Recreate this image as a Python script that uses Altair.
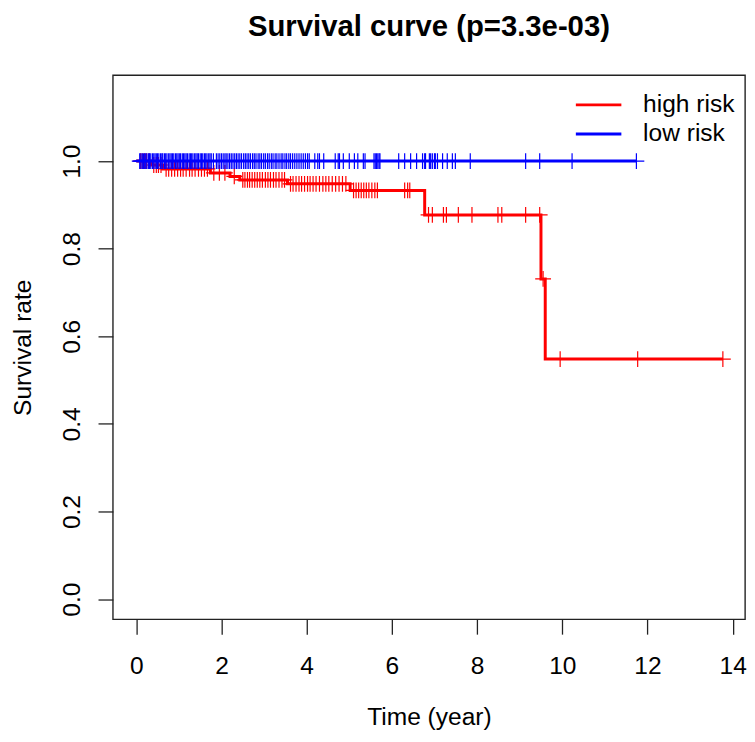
import altair as alt
import pandas as pd
from bisect import bisect_right

# ---- data ----
high_event_times = [0.35, 0.62, 1.74, 2.20, 2.43, 3.55, 5.02, 6.77, 9.50, 9.60]
high_surv = [0.991, 0.982, 0.973, 0.965, 0.957, 0.948, 0.933, 0.877, 0.731, 0.548]
high_end = 13.77
high_censor = [0.10, 0.14, 0.19, 0.24, 0.30, 0.41, 0.47, 0.52, 0.58, 0.70, 0.76, 0.83, 0.90, 0.97,
               1.04, 1.10, 1.17, 1.25, 1.31, 1.38, 1.46, 1.53, 1.60, 1.67, 1.82, 1.95, 2.08, 2.30,
               2.50, 2.55, 2.61, 2.66, 2.72, 2.78, 2.84, 2.90, 2.96, 3.03, 3.09, 3.15, 3.22, 3.28,
               3.35, 3.42, 3.48, 3.62, 3.68, 3.75, 3.82, 3.88, 3.95, 4.02, 4.08, 4.15, 4.22, 4.30,
               4.38, 4.45, 4.52, 4.60, 4.68, 4.76, 4.84, 4.92, 5.10, 5.16, 5.22, 5.28, 5.34, 5.40,
               5.46, 5.53, 5.60, 5.66, 6.30, 6.37, 6.42, 6.86, 6.95, 7.21, 7.28, 7.56, 7.88, 8.49,
               8.58, 9.14, 9.47, 9.55, 9.95, 11.77, 13.77]

low_event_times = []
low_surv = []
low_end = 11.74
low_censor = [0.08, 0.11, 0.14, 0.17, 0.20, 0.22, 0.25, 0.29, 0.31, 0.34, 0.38, 0.41, 0.44, 0.47,
              0.50, 0.53, 0.57, 0.60, 0.62, 0.66, 0.69, 0.72, 0.76, 0.79, 0.82, 0.85, 0.88, 0.92,
              0.95, 0.98, 1.01, 1.04, 1.08, 1.11, 1.14, 1.17, 1.20, 1.24, 1.27, 1.30, 1.33, 1.37,
              1.40, 1.43, 1.46, 1.50, 1.53, 1.56, 1.60, 1.63, 1.66, 1.70, 1.73, 1.76, 1.81, 1.88,
              1.92, 1.96, 2.00, 2.04, 2.08, 2.11, 2.15, 2.19, 2.23, 2.27, 2.31, 2.35, 2.39, 2.43,
              2.47, 2.52, 2.56, 2.60, 2.64, 2.68, 2.73, 2.77, 2.81, 2.86, 2.90, 2.94, 2.99, 3.03,
              3.08, 3.12, 3.17, 3.21, 3.26, 3.30, 3.35, 3.40, 3.44, 3.49, 3.53, 3.58, 3.62, 3.67,
              3.72, 3.77, 3.82, 3.87, 3.92, 3.97, 4.02, 4.06, 4.19, 4.26, 4.30, 4.40, 4.67, 4.74,
              4.77, 4.86, 5.00, 5.12, 5.20, 5.33, 5.37, 5.58, 5.61, 5.64, 5.67, 5.70, 5.72, 6.16,
              6.30, 6.44, 6.58, 6.72, 6.77, 6.79, 6.88, 6.91, 6.95, 7.00, 7.02, 7.07, 7.19, 7.30,
              7.42, 7.49, 7.84, 9.14, 9.47, 10.23, 11.74]

x_ticks = [0, 2, 4, 6, 8, 10, 12, 14]
y_ticks = [0.0, 0.2, 0.4, 0.6, 0.8, 1.0]
title_text = "Survival curve (p=3.3e-03)"
legend_labels = ["high risk", "low risk"]
colors = ["#FF0000", "#0000FF"]

FONT = "Liberation Sans"
FS = 24.8
W, H = 639, 550


def surv_at(times, surv, t):
    i = bisect_right(times, t)
    return 1.0 if i == 0 else surv[i - 1]


def curve_df(times, surv, end):
    rows = [{"time": 0.0, "surv": 1.0}]
    for t, s in zip(times, surv):
        rows.append({"time": t, "surv": s})
    rows.append({"time": end, "surv": surv[-1] if surv else 1.0})
    return pd.DataFrame(rows)


def censor_df(times, surv, cens):
    return pd.DataFrame({"time": cens, "surv": [surv_at(times, surv, c) for c in cens]})


xs = alt.Scale(domain=[-0.55, 14.29], nice=False, zero=False)
ys = alt.Scale(domain=[-0.046, 1.196], nice=False, zero=False)

xaxis = alt.Axis(values=x_ticks, title="Time (year)", grid=False, domain=False,
                 tickSize=15, tickWidth=1.3, tickColor="#222222",
                 labelFont=FONT, labelFontSize=FS, labelColor="black",
                 labelBaseline="alphabetic", labelPadding=40, labelFlush=False,
                 titleFont=FONT, titleFontSize=FS, titleFontWeight="normal", titleColor="black",
                 titleBaseline="alphabetic", titleY=106)
yaxis = alt.Axis(values=y_ticks, format=".1f", title="Survival rate", grid=False, domain=False,
                 tickSize=15, tickWidth=1.3, tickColor="#222222",
                 labelFont=FONT, labelFontSize=FS, labelColor="black",
                 labelAngle=270, labelAlign="center", labelBaseline="alphabetic",
                 labelPadding=19, labelFlush=False,
                 titleFont=FONT, titleFontSize=FS, titleFontWeight="normal", titleColor="black",
                 titleAngle=270, titleBaseline="alphabetic", titleX=-83)

plus = "M-1,0L1,0M0,-1L0,1"


def group_layers(times, surv, end, cens, color):
    line = alt.Chart(curve_df(times, surv, end)).mark_line(
        interpolate="step-after", color=color, strokeWidth=3
    ).encode(
        x=alt.X("time:Q", scale=xs, axis=xaxis),
        y=alt.Y("surv:Q", scale=ys, axis=yaxis),
    )
    pts = alt.Chart(censor_df(times, surv, cens)).mark_point(
        shape=plus, filled=False, size=256, strokeWidth=1.2, color=color, opacity=1
    ).encode(
        x=alt.X("time:Q", scale=xs, axis=xaxis),
        y=alt.Y("surv:Q", scale=ys, axis=yaxis),
    )
    return [line, pts]


layers = []
layers += group_layers(high_event_times, high_surv, high_end, high_censor, colors[0])
layers += group_layers(low_event_times, low_surv, low_end, low_censor, colors[1])

one = pd.DataFrame({"a": [0]})

# legend (top-right, inside the box)
leg_y0 = 30
leg_dy = 29.5
for i, (lab, col) in enumerate(zip(legend_labels, colors)):
    yy = leg_y0 + i * leg_dy
    layers.append(
        alt.Chart(one).mark_rule(color=col, strokeWidth=3).encode(
            x=alt.value(468), x2=alt.value(514), y=alt.value(yy)
        )
    )
    layers.append(
        alt.Chart(one).mark_text(
            text=lab, align="left", baseline="middle", font=FONT, fontSize=FS, color="black"
        ).encode(x=alt.value(536), y=alt.value(yy))
    )

# main title above the box
layers.append(
    alt.Chart(one).mark_text(
        text=title_text, align="center", baseline="alphabetic", font=FONT, fontSize=29.6,
        fontWeight="bold", color="black"
    ).encode(x=alt.value(W / 2), y=alt.value(-40))
)

chart = alt.layer(*layers).properties(
    width=W,
    height=H,
    autosize=alt.AutoSizeParams(type="none"),
    padding={"left": 106, "top": 64, "right": 2, "bottom": 112},
    background="white",
).configure_view(stroke="#222222", strokeWidth=1.4)

chart.save("out.html", embed_options={"renderer": "svg", "actions": False})
